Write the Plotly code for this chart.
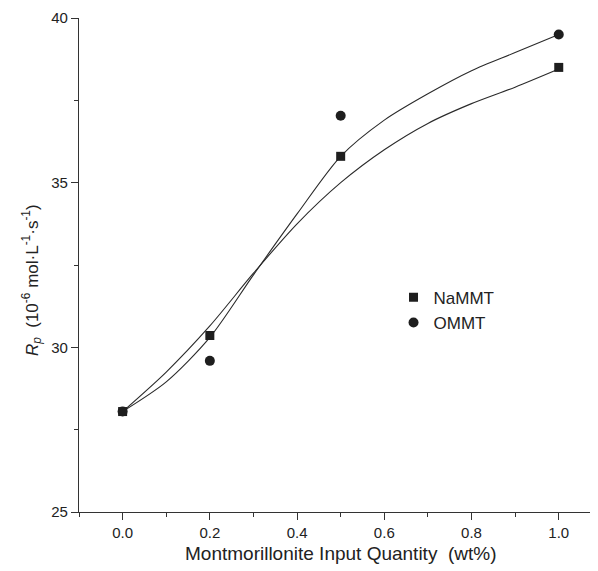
import plotly.graph_objects as go

# Measured data points
x_pts = [0.0, 0.2, 0.5, 1.0]
namm_y = [28.05, 30.36, 35.80, 38.50]
omm_y = [28.05, 29.59, 37.03, 39.50]

# Fitted curves
curve_x = [0.0, 0.1, 0.2, 0.3, 0.4, 0.5, 0.6, 0.7, 0.8, 0.9, 1.0]
namm_curve = [28.05, 29.25, 30.65, 32.25, 33.75, 35.0, 36.0, 36.8, 37.4, 37.9, 38.45]
omm_curve = [28.05, 28.95, 30.3, 32.2, 34.05, 35.8, 36.9, 37.7, 38.4, 38.95, 39.5]

x_ticks = [0.0, 0.2, 0.4, 0.6, 0.8, 1.0]
x_tick_text = ["0.0", "0.2", "0.4", "0.6", "0.8", "1.0"]
y_ticks = [25, 30, 35, 40]

FONT = "Liberation Sans, Arial, sans-serif"
INK = "#1e1e1e"
LINE = "#2a2a2a"

fig = go.Figure()
for cy in (namm_curve, omm_curve):
    fig.add_trace(go.Scatter(x=curve_x, y=cy, mode="lines",
                             line=dict(color=LINE, width=1.1, shape="spline", smoothing=0.8),
                             showlegend=False, hoverinfo="skip"))
fig.add_trace(go.Scatter(x=x_pts, y=namm_y, mode="markers", name="NaMMT",
                         marker=dict(symbol="square", size=9, color=INK)))
fig.add_trace(go.Scatter(x=x_pts, y=omm_y, mode="markers", name="OMMT",
                         marker=dict(symbol="circle", size=10, color=INK)))

fig.update_layout(
    width=590, height=563,
    margin=dict(l=71, r=0, t=10, b=59),
    paper_bgcolor="white", plot_bgcolor="white",
    font=dict(family=FONT, size=15, color="#222"),
    legend=dict(x=0.606, y=0.47, xanchor="left", yanchor="top", bgcolor="rgba(0,0,0,0)",
                font=dict(size=17, color="#222"), itemwidth=30, tracegroupgap=0),
    xaxis=dict(range=[-0.1, 1.09], tickvals=x_ticks, ticktext=x_tick_text, ticks="outside", ticklen=7,
               tickcolor="#333", showline=True, linecolor="#333", linewidth=1.2, showgrid=False,
               zeroline=False, minor=dict(dtick=0.1, tick0=0.0, ticks="outside", ticklen=4, tickcolor="#333")),
    yaxis=dict(range=[25, 40], tickvals=y_ticks, ticks="outside", ticklen=7, tickcolor="#333",
               showline=True, linecolor="#333", linewidth=1.2, showgrid=False, zeroline=False,
               minor=dict(dtick=2.5, tick0=25, ticks="outside", ticklen=4, tickcolor="#333")),
    annotations=[
        dict(text="Montmorillonite Input Quantity  (wt%)", x=0.5, xref="x", y=-0.083, yref="paper",
             yanchor="middle", showarrow=False, font=dict(size=19, color="#222")),
        dict(text="<i>R</i><sub><i>p</i></sub>  (10<sup>-6</sup> mol·L<sup>-1</sup>·s<sup>-1</sup>)",
             x=-0.09, xref="paper", y=0.47, yref="paper", xanchor="center", yanchor="middle",
             textangle=-90, showarrow=False, font=dict(size=17, color="#222")),
    ],
)

fig.write_html("out.html")
